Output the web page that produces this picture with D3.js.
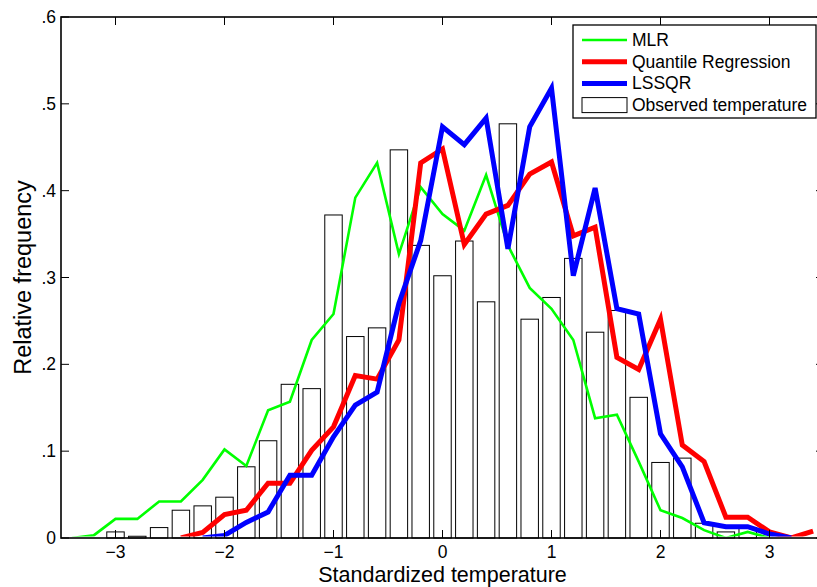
<!DOCTYPE html>
<html>
<head>
<meta charset="utf-8">
<script src="https://cdn.jsdelivr.net/npm/d3@7"></script>
<style>
    body { margin: 0; background: #fff; }
    svg { display: block; font-family: 'Liberation Sans', Arial, sans-serif; }
</style>
</head>
<body>
<div id="chart"></div>
<script>
// histogram of observed temperature (bin centres + relative frequency)
const binCenters = [-3.0, -2.8, -2.6, -2.4, -2.2, -2.0, -1.8, -1.6, -1.4, -1.2, -1.0, -0.8, -0.6, -0.4, -0.2,
    0.0, 0.2, 0.4, 0.6, 0.8, 1.0, 1.2, 1.4, 1.6, 1.8, 2.0, 2.2, 2.4, 2.6, 2.8];
const observed = [0.007, 0.002, 0.012, 0.032, 0.037, 0.047, 0.082, 0.112, 0.177, 0.172, 0.372, 0.232, 0.242, 0.447, 0.337,
    0.302, 0.342, 0.272, 0.477, 0.252, 0.277, 0.322, 0.237, 0.262, 0.162, 0.087, 0.092, 0.017, 0.007, 0.012];

// model curves, evaluated on a common grid (null = not drawn)
const lineX = [-3.4, -3.2, -3.0, -2.8, -2.6, -2.4, -2.2, -2.0, -1.8, -1.6, -1.4, -1.2, -1.0, -0.8, -0.6, -0.4, -0.2,
    0.0, 0.2, 0.4, 0.6, 0.8, 1.0, 1.2, 1.4, 1.6, 1.8, 2.0, 2.2, 2.4, 2.6, 2.8, 3.0, 3.2, 3.4];
const mlr = [0, 0.003, 0.022, 0.022, 0.042, 0.042, 0.067, 0.102, 0.083, 0.147, 0.157, 0.228, 0.258, 0.392, 0.432, 0.327, 0.404,
    0.373, 0.354, 0.418, 0.337, 0.288, 0.264, 0.228, 0.138, 0.142, 0.088, 0.032, 0.023, 0.009, 0, 0.007, 0, null, null];
const quantReg = [null, null, null, null, null, 0, 0.0065, 0.027, 0.032, 0.063, 0.063, 0.101, 0.128, 0.187, 0.183, 0.228, 0.432,
    0.448, 0.338, 0.373, 0.383, 0.419, 0.433, 0.348, 0.358, 0.208, 0.194, 0.252, 0.107, 0.088, 0.024, 0.024, 0.007, 0, 0.008];
const lssqr = [null, null, null, null, null, null, 0, 0.003, 0.018, 0.03, 0.0724, 0.0724, 0.1165, 0.153, 0.168, 0.27, 0.3425,
    0.4736, 0.453, 0.4835, 0.333, 0.4736, 0.518, 0.302, 0.403, 0.264, 0.258, 0.12, 0.082, 0.0176, 0.013, 0.013, 0.0046, 0, null];

const xTicks = [-3, -2, -1, 0, 1, 2, 3];
const xTickLabels = ['\u22123', '\u22122', '\u22121', '0', '1', '2', '3'];
const yTicks = [0, 0.1, 0.2, 0.3, 0.4, 0.5, 0.6];
const yTickLabels = ['0', '.1', '.2', '.3', '.4', '.5', '.6'];

const series = [
    { name: 'MLR', values: mlr, color: '#00ff00', width: 2.6 },
    { name: 'Quantile Regression', values: quantReg, color: '#ff0000', width: 5 },
    { name: 'LSSQR', values: lssqr, color: '#0000ff', width: 5 },
];

function drawChart() {
    const width = 817;
    const height = 587;
    const margin = { top: 17, right: -7, bottom: 49, left: 61 };

    const usableArea = {
        top: margin.top,
        right: width - margin.right,
        bottom: height - margin.bottom,
        left: margin.left,
    };

    const svg = d3.select('#chart').append('svg')
        .attr('width', width)
        .attr('height', height);

    const xScale = d3.scaleLinear()
        .domain([-3.5, 3.5])
        .range([usableArea.left, usableArea.right]);

    const yScale = d3.scaleLinear()
        .domain([0, 0.6])
        .range([usableArea.bottom, usableArea.top]);

    // lines sitting on zero disappear under the axis, like in the original
    svg.append('clipPath').attr('id', 'plot-clip')
        .append('rect')
        .attr('x', usableArea.left)
        .attr('y', usableArea.top)
        .attr('width', usableArea.right - usableArea.left)
        .attr('height', usableArea.bottom - usableArea.top - 1.5);

    // bars: 80% of the bin spacing
    const binStep = binCenters[1] - binCenters[0];
    const barW = xScale(binStep * 0.8) - xScale(0);

    svg.append('g').attr('class', 'bars')
        .selectAll('rect')
        .data(binCenters.map((c, i) => ({ c, v: observed[i] })))
        .join('rect')
        .attr('x', (d) => xScale(d.c) - barW / 2)
        .attr('y', (d) => yScale(d.v))
        .attr('width', barW)
        .attr('height', (d) => yScale(0) - yScale(d.v))
        .attr('fill', '#fff')
        .attr('stroke', '#000')
        .attr('stroke-width', 1);

    const line = d3.line()
        .defined((d) => d.v !== null)
        .x((d) => xScale(d.x))
        .y((d) => yScale(d.v));

    const lines = svg.append('g').attr('clip-path', 'url(#plot-clip)');
    series.forEach((s) => {
        lines.append('path')
            .datum(lineX.map((x, i) => ({ x, v: s.values[i] })))
            .attr('d', line)
            .attr('fill', 'none')
            .attr('stroke', s.color)
            .attr('stroke-width', s.width)
            .attr('stroke-linejoin', 'miter');
    });

    // axes, matlab style box with inward ticks
    const tickLen = 8;
    const axisG = svg.append('g').attr('class', 'axes');

    axisG.append('rect')
        .attr('x', usableArea.left)
        .attr('y', usableArea.top)
        .attr('width', usableArea.right - usableArea.left)
        .attr('height', usableArea.bottom - usableArea.top)
        .attr('fill', 'none')
        .attr('stroke', '#000')
        .attr('stroke-width', 1.6);

    xTicks.forEach((t, i) => {
        const x = xScale(t);
        axisG.append('line').attr('x1', x).attr('x2', x)
            .attr('y1', usableArea.bottom).attr('y2', usableArea.bottom - tickLen)
            .attr('stroke', '#000');
        axisG.append('line').attr('x1', x).attr('x2', x)
            .attr('y1', usableArea.top).attr('y2', usableArea.top + tickLen)
            .attr('stroke', '#000');
        axisG.append('text')
            .attr('x', x)
            .attr('y', usableArea.bottom + 20)
            .attr('text-anchor', 'middle')
            .attr('font-size', 17.5)
            .text(xTickLabels[i]);
    });

    yTicks.forEach((t, i) => {
        const y = yScale(t);
        axisG.append('line').attr('x1', usableArea.left).attr('x2', usableArea.left + tickLen)
            .attr('y1', y).attr('y2', y)
            .attr('stroke', '#000');
        axisG.append('line').attr('x1', usableArea.right).attr('x2', usableArea.right - tickLen)
            .attr('y1', y).attr('y2', y)
            .attr('stroke', '#000');
        axisG.append('text')
            .attr('x', usableArea.left - 5)
            .attr('y', y + 6)
            .attr('text-anchor', 'end')
            .attr('font-size', 17.5)
            .text(yTickLabels[i]);
    });

    // axis titles
    svg.append('text')
        .attr('x', xScale(0))
        .attr('y', 582)
        .attr('text-anchor', 'middle')
        .attr('font-size', 21.5)
        .text('Standardized temperature');

    svg.append('text')
        .attr('transform', `translate(31, ${(usableArea.top + usableArea.bottom) / 2}) rotate(-90)`)
        .attr('text-anchor', 'middle')
        .attr('font-size', 23.5)
        .text('Relative frequency');

    // legend
    const legend = svg.append('g').attr('class', 'legend');
    legend.append('rect')
        .attr('x', 573).attr('y', 25)
        .attr('width', 243).attr('height', 93)
        .attr('fill', '#fff')
        .attr('stroke', '#000')
        .attr('stroke-width', 1.3);

    const rowY = (i) => 40 + i * 21.7;
    series.forEach((s, i) => {
        legend.append('line')
            .attr('x1', 582).attr('x2', 627)
            .attr('y1', rowY(i)).attr('y2', rowY(i))
            .attr('stroke', s.color)
            .attr('stroke-width', s.width);
        legend.append('text')
            .attr('x', 632).attr('y', rowY(i) + 6)
            .attr('font-size', 17.5)
            .text(s.name);
    });
    legend.append('rect')
        .attr('x', 582).attr('y', rowY(3) - 7.5)
        .attr('width', 45).attr('height', 15)
        .attr('fill', '#fff')
        .attr('stroke', '#000');
    legend.append('text')
        .attr('x', 632).attr('y', rowY(3) + 6)
        .attr('font-size', 17.5)
        .text('Observed temperature');
}

drawChart();
</script>
</body>
</html>
